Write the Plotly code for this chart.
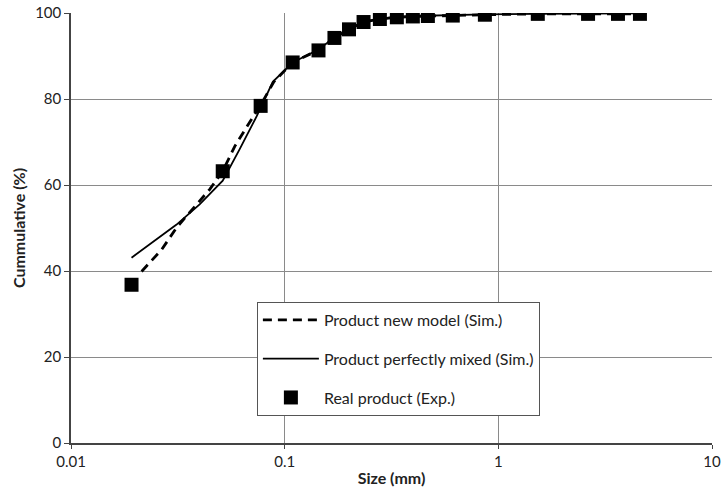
import plotly.graph_objects as go

# Experimental data (Real product)
exp_size = [0.0192, 0.0513, 0.0772, 0.109, 0.144, 0.171, 0.2, 0.234, 0.279, 0.335,
            0.398, 0.468, 0.612, 0.865, 1.53, 2.63, 3.63, 4.6]
exp_cum = [36.8, 63.2, 78.4, 88.5, 91.3, 94.2, 96.2, 97.9, 98.6, 99.0,
           99.2, 99.3, 99.4, 99.6, 99.8, 99.8, 99.8, 99.8]

# Product new model (Sim.)
new_size = [0.0214, 0.0266, 0.0312, 0.0379, 0.0446, 0.0513, 0.0584, 0.0686, 0.0772, 0.089,
            0.109, 0.144, 0.171, 0.2, 0.234, 0.279, 0.335, 0.398, 0.468, 0.612, 0.865,
            1.53, 2.63, 3.63, 4.6]
new_cum = [39.9, 45.0, 50.1, 55.0, 59.0, 63.2, 69.0, 74.6, 78.6, 84.0,
           88.5, 91.4, 94.2, 96.2, 97.9, 98.6, 99.0, 99.2, 99.3, 99.4, 99.6,
           99.8, 99.8, 99.8, 99.8]

# Product perfectly mixed (Sim.)
mix_size = [0.0192, 0.0312, 0.040, 0.0513, 0.0615, 0.074, 0.088, 0.109, 0.144, 0.171,
            0.2, 0.234, 0.279, 0.335, 0.398, 0.468, 0.612, 0.865, 1.53, 2.63, 3.63, 4.6]
mix_cum = [43.1, 50.8, 55.5, 61.0, 68.3, 76.0, 84.0, 88.5, 91.5, 94.3,
           96.3, 97.9, 98.7, 99.1, 99.3, 99.4, 99.5, 99.7, 99.8, 99.9, 99.9, 99.9]

x_ticks = [0.01, 0.1, 1, 10]
x_tick_labels = ["0.01", "0.1", "1", "10"]
y_ticks = [0, 20, 40, 60, 80, 100]

fig = go.Figure()
fig.add_trace(go.Scatter(x=new_size, y=new_cum, mode="lines", name="Product new model (Sim.)",
                         line=dict(color="black", width=2.8, dash="9px,6px"), legendgroup="a"))
fig.add_trace(go.Scatter(x=mix_size, y=mix_cum, mode="lines", name="Product perfectly mixed (Sim.)",
                         line=dict(color="black", width=1.8), legendgroup="b"))
fig.add_trace(go.Scatter(x=exp_size, y=exp_cum, mode="markers", name="Real product (Exp.)",
                         marker=dict(symbol="square", size=14, color="black"), legendgroup="c"))

fig.update_layout(
    width=724, height=488,
    margin=dict(l=71, r=12, t=13, b=45),
    paper_bgcolor="white", plot_bgcolor="white",
    font=dict(family="Lato, Open Sans, sans-serif", size=15, color="#222"),
    showlegend=True,
    legend=dict(x=0.29, y=0.328, xanchor="left", yanchor="top",
                bgcolor="white", bordercolor="#555", borderwidth=1,
                font=dict(size=16), tracegroupgap=15, itemwidth=56),
    xaxis=dict(type="log", range=[-2, 1], tickvals=x_ticks, ticktext=x_tick_labels,
               showgrid=True, gridcolor="#8a8a8a", gridwidth=1,
               showline=True, linecolor="#444", linewidth=1.5,
               ticks="outside", ticklen=4, tickcolor="#444", automargin=False,
               title=dict(text="<b>Size (mm)</b>", font=dict(size=16), standoff=4),
               zeroline=False),
    yaxis=dict(range=[0, 100], tickvals=y_ticks,
               showgrid=True, gridcolor="#8a8a8a", gridwidth=1,
               showline=True, linecolor="#444", linewidth=1.5,
               ticks="outside", ticklen=5, tickcolor="#444", automargin=False,
               title=dict(text="<b>Cummulative (%)</b>", font=dict(size=16), standoff=6),
               zeroline=False),
)

fig.write_html("out.html", config={"displayModeBar": False},
               post_script="document.body.style.margin='0';")
